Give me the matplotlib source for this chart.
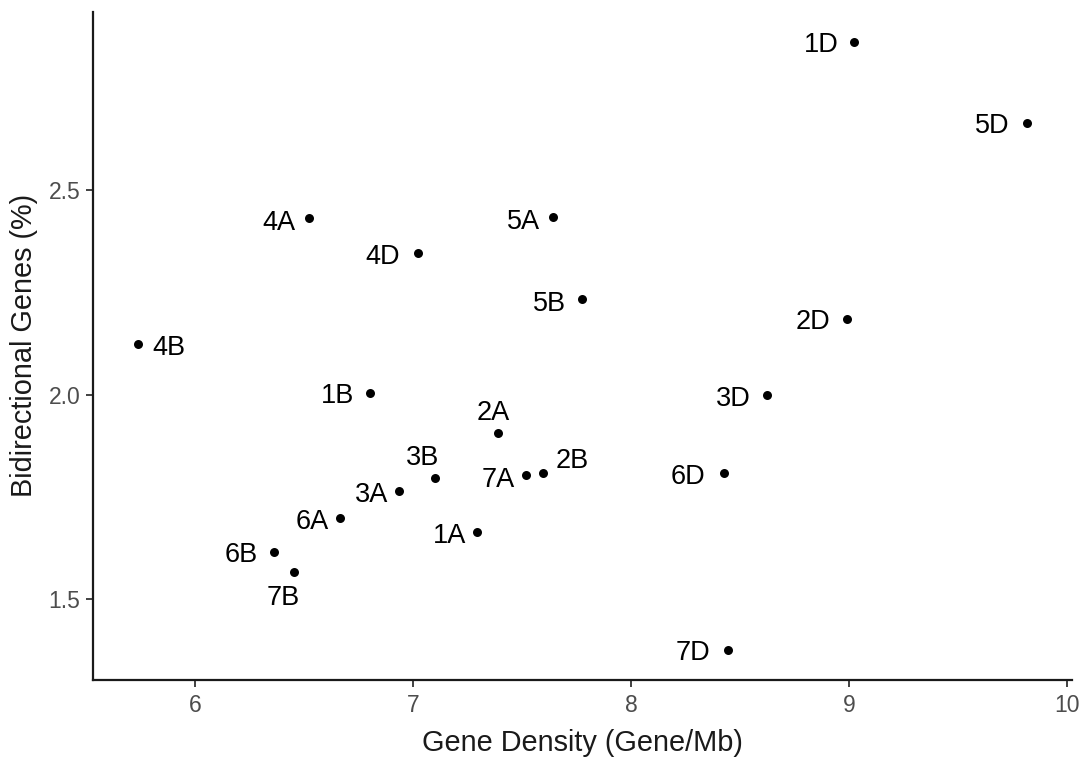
import matplotlib
matplotlib.use("Agg")
import matplotlib.pyplot as plt

# ---- data ----
chromosomes = ["1A", "1B", "1D", "2A", "2B", "2D", "3A", "3B", "3D",
               "4A", "4B", "4D", "5A", "5B", "5D", "6A", "6B", "6D",
               "7A", "7B", "7D"]
gene_density = [7.292, 6.803, 9.023, 7.389, 7.593, 8.989, 6.933, 7.098, 8.622,
                6.520, 5.735, 7.024, 7.641, 7.774, 9.818, 6.665, 6.362, 8.427,
                7.518, 6.454, 8.446]
bidirectional_pct = [1.664, 2.005, 2.863, 1.906, 1.808, 2.185, 1.764, 1.797, 1.999,
                     2.432, 2.124, 2.347, 2.436, 2.234, 2.665, 1.699, 1.615, 1.808,
                     1.803, 1.566, 1.376]
x_ticks = [6, 7, 8, 9, 10]
y_ticks = [1.5, 2.0, 2.5]
x_label = "Gene Density (Gene/Mb)"
y_label = "Bidirectional Genes (%)"

# ---- label layout (pixel offsets from the point: dx, dy(down +), ha) ----
label_layout = {
    "1D": (-16, 3, "right"), "5D": (-18, 3, "right"), "2D": (-17, 3, "right"),
    "4B": (15, 4, "left"), "4A": (-13, 5, "right"), "5A": (-13, 5, "right"),
    "4D": (-19, 4, "right"), "5B": (-16, 5, "right"), "1B": (-16, 3, "right"),
    "3D": (-16, 4, "right"), "6D": (-19, 4, "right"), "7D": (-18, 3, "right"),
    "2A": (-5, -20, "center"), "3B": (-12, -20, "center"), "2B": (13, -12, "left"),
    "7A": (-11, 5, "right"), "1A": (-11, 4, "right"), "3A": (-10, 4, "right"),
    "6A": (-11, 4, "right"), "6B": (-16, 3, "right"), "7B": (-11, 26, "center"),
}

W, H, DPI = 1082, 758, 100
PX = 72.0 / DPI
plt.rcParams["font.family"] = ["Liberation Sans", "DejaVu Sans"]

fig = plt.figure(figsize=(W / DPI, H / DPI), dpi=DPI)
ax = fig.add_axes([93 / W, 1 - 680 / H, (1072 - 93) / W, (680 - 11.7) / H])

ax.scatter(gene_density, bidirectional_pct, s=42, color="black", zorder=3,
           linewidths=0)
ax.margins(0.05)

for name, gx, gy in zip(chromosomes, gene_density, bidirectional_pct):
    dx, dy, ha = label_layout[name]
    ax.annotate(name, (gx, gy), xytext=(dx * PX, -dy * PX),
                textcoords="offset points", ha=ha, va="center",
                fontsize=19.5, color="black")

ax.set_xticks(x_ticks)
ax.set_yticks(y_ticks)
ax.set_xticklabels([str(t) for t in x_ticks])
ax.set_yticklabels([f"{t:.1f}" for t in y_ticks])
ax.tick_params(axis="both", direction="out", length=5, width=1.3,
               color="#333333", labelcolor="#4d4d4d", labelsize=16.5, pad=4)
ax.tick_params(axis="x", pad=5)

for side in ["top", "right"]:
    ax.spines[side].set_visible(False)
for side in ["left", "bottom"]:
    ax.spines[side].set_linewidth(1.6)
    ax.spines[side].set_color("#1a1a1a")

ax.set_xlabel(x_label, fontsize=20.8, color="#1a1a1a", labelpad=9)
ax.set_ylabel(y_label, fontsize=20.8, color="#1a1a1a", labelpad=8)

fig.savefig("out.png", dpi=DPI)
